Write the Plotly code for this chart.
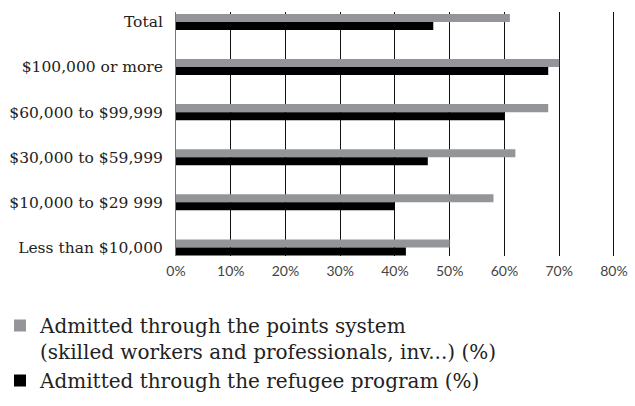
import plotly.graph_objects as go

categories = ["Total", "$100,000 or more", "$60,000 to $99,999", "$30,000 to $59,999",
              "$10,000 to $29 999", "Less than $10,000"]
points_system = [61, 70, 68, 62, 58, 50]
refugee_program = [47, 68, 60, 46, 40, 42]
series_names = ["Admitted through the points system<br>(skilled workers and professionals, inv...) (%)",
                "Admitted through the refugee program (%)"]
x_ticks = [0, 10, 20, 30, 40, 50, 60, 70, 80]
x_tick_labels = ["0%", "10%", "20%", "30%", "40%", "50%", "60%", "70%", "80%"]

fig = go.Figure()
fig.add_trace(go.Bar(y=categories, x=points_system, orientation="h", name=series_names[0],
                     marker=dict(color="#939598", line=dict(width=0))))
fig.add_trace(go.Bar(y=categories, x=refugee_program, orientation="h", name=series_names[1],
                     marker=dict(color="#000000", line=dict(width=0))))

fig.update_layout(
    width=635, height=406,
    margin=dict(l=176, r=20, t=12, b=150, autoexpand=False),
    paper_bgcolor="white", plot_bgcolor="white",
    barmode="group", bargap=0.645, bargroupgap=0,
    showlegend=True,
    legend=dict(xref="container", yref="container", x=0.0, y=1 - 306 / 406,
                xanchor="left", yanchor="top", valign="top",
                orientation="v", traceorder="normal",
                font=dict(family="DejaVu Serif", size=20, color="#222"),
                itemsizing="constant", tracegroupgap=0),
    xaxis=dict(range=[0, 80.2], tickvals=x_ticks, ticktext=x_tick_labels,
               showgrid=True, gridcolor="#111", gridwidth=1,
               zeroline=False, showline=False, ticks="", automargin=False,
               ticklabelstandoff=5,
               tickfont=dict(family="Lato", size=14, color="#444")),
    yaxis=dict(range=[5.19, -0.22], showgrid=False, zeroline=False,
               showline=True, linecolor="#777", linewidth=1, ticks="",
               ticklabelstandoff=9, automargin=False,
               tickfont=dict(family="DejaVu Serif", size=15.5, color="#222")),
)

fig.write_html("out.html", config={"displayModeBar": False},
               post_script="document.body.style.margin='0';document.body.style.padding='0';")
